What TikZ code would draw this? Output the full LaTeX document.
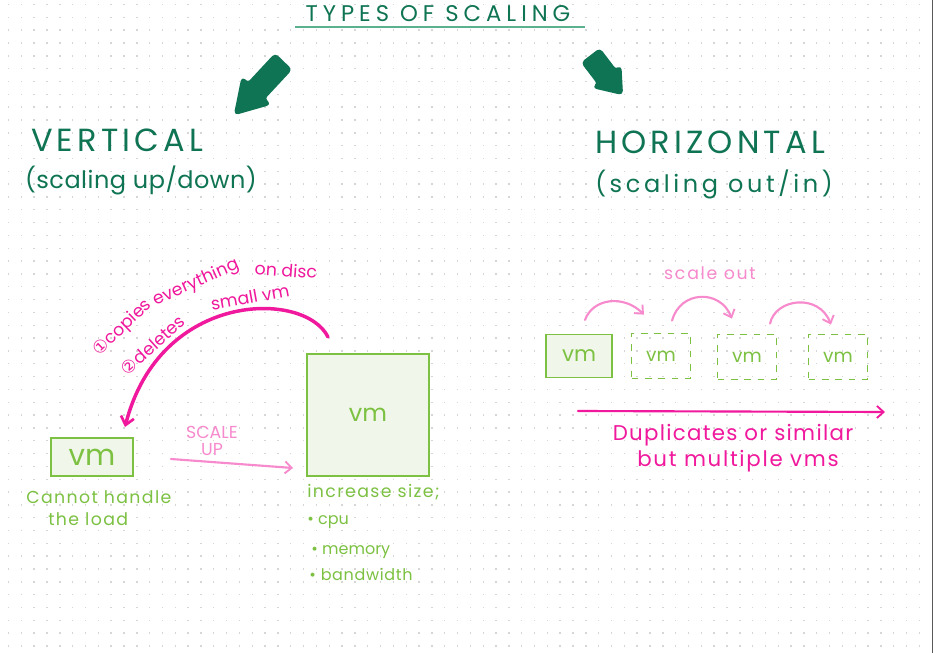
\documentclass[tikz,border=0pt]{standalone}
\usepackage{fontspec}
\setmainfont{Poppins}
\newfontfamily\symfont{DejaVu Sans}
\usetikzlibrary{arrows.meta,calc}
\definecolor{dkgreen}{HTML}{0E7453}
\definecolor{ulgreen}{HTML}{5BB08E}
\definecolor{lgreen}{HTML}{7CC142}
\definecolor{boxfill}{HTML}{F0F6E9}
\definecolor{hotpk}{HTML}{F0189C}
\definecolor{lightpk}{HTML}{F78ACD}
\definecolor{dotgray}{HTML}{D6D6D6}
\tikzset{
  heading/.style={text=dkgreen, inner sep=0pt},
  vmbox/.style={draw=lgreen, fill=boxfill, line width=1.1pt, text=lgreen, inner sep=0pt},
  vmdash/.style={draw=lgreen, line width=1.1pt, dash pattern=on 5pt off 5pt, text=lgreen, inner sep=0pt},
  greennote/.style={text=lgreen, inner sep=0pt, anchor=west},
  pinknote/.style={text=hotpk, inner sep=0pt},
  lpinknote/.style={text=lightpk, inner sep=0pt},
  bigarrow/.style={fill=dkgreen, draw=dkgreen, line width=1.5pt, rounded corners=2.5pt, line join=round},
  hotline/.style={draw=hotpk, line width=2.6pt, line cap=round, -{Straight Barb[length=6pt,width=10pt,line width=2pt]}},
  thinhot/.style={draw=hotpk, line width=1.6pt, line cap=round, -{Straight Barb[length=5pt,width=9pt,line width=1.4pt]}},
  lpinkline/.style={draw=lightpk, line width=1.6pt, line cap=round, -{Straight Barb[length=5pt,width=9pt,line width=1.4pt]}},
}
\begin{document}
\begin{tikzpicture}[x=0.75pt,y=-0.75pt]
\useasboundingbox (0,0) rectangle (933,653);
\fill[white] (0,0) rectangle (933,653);
% dot grid
\foreach \i in {0,...,71}{\foreach \j in {0,...,50}{
  \fill[dotgray] (7.8+\i*12.83,3.8+\j*12.83) rectangle +(1.4,1.4);}}
\draw[gray!70!black, line width=0.8pt] (932.3,0) -- (932.3,653);

% title
\node[heading, font=\fontsize{17}{17}\selectfont\addfontfeature{LetterSpace=22}] (title) at (438,14) {TYPES OF SCALING};
\draw[ulgreen, line width=1.2pt] (295,27) -- (585,27);

% big green arrows
\path[bigarrow] (275.1,54.4) -- (290.9,69.6) -- (263.9,98.6) -- (269.7,104.1) -- (235,114) -- (242.3,77.9) -- (248.1,83.4) -- cycle;
\path[bigarrow] (582.3,62.7) -- (599.7,49.3) -- (615.7,70.3) -- (620.5,66.7) -- (622,94) -- (593.5,87.3) -- (598.3,83.7) -- cycle;

% headings
\node[heading, font=\fontsize{24}{24}\selectfont\addfontfeature{LetterSpace=13}] (vert) at (117,140) {VERTICAL};
\node[heading, font=\fontsize{18}{18}\selectfont\addfontfeature{LetterSpace=2}] (vertsub) at (141,180) {(scaling up/down)};
\node[heading, font=\fontsize{24}{24}\selectfont\addfontfeature{LetterSpace=13}] (horiz) at (710,142) {HORIZONTAL};
\node[heading, font=\fontsize{18}{18}\selectfont\addfontfeature{LetterSpace=15}] (horizsub) at (714,184) {(scaling out/in)};

% vertical scaling
\node[vmbox, minimum width=61.5pt, minimum height=28.5pt, font=\fontsize{22}{22}\selectfont] (smallvm) at (92,457) {vm};
\node[vmbox, minimum width=91.5pt, minimum height=91.5pt, font=\fontsize{18}{18}\selectfont] (bigvm) at (368,415) {vm};

\coordinate (arcstart) at (328,337);
\coordinate (arcend) at (125,427);
\draw[hotline] (arcstart) .. controls (305,290) and (160,290) .. (arcend);

\node[pinknote, font=\fontsize{13}{13}\selectfont, rotate=44] (c1) at (123,328) {{\symfont ①}copies};
\node[pinknote, font=\fontsize{13}{13}\selectfont, rotate=24] (c2) at (196,283) {everything};
\node[pinknote, font=\fontsize{13}{13}\selectfont, rotate=-4] (c3) at (286,270) {on disc};
\node[pinknote, font=\fontsize{13}{13}\selectfont, rotate=42] (d1) at (153,345) {{\symfont ②}deletes};
\node[pinknote, font=\fontsize{13}{13}\selectfont, rotate=10] (d2) at (250,297) {small vm};

\node[lpinknote, font=\fontsize{13}{13}\selectfont, align=center] (scaleup) at (212,441) {SCALE\\UP};
\coordinate (upstart) at (171,459);
\coordinate (upend) at (293,468);
\draw[lpinkline] (upstart) -- (upend);

\node[greennote, font=\fontsize{13}{13}\selectfont\addfontfeature{LetterSpace=8}] (cannot) at (26,497) {Cannot handle};
\node[greennote, font=\fontsize{13}{13}\selectfont\addfontfeature{LetterSpace=8}] (load) at (48,519) {the load};

\node[greennote, font=\fontsize{13}{13}\selectfont\addfontfeature{LetterSpace=8}] (incr) at (307,492) {increase size;};
\node[greennote, font=\fontsize{12}{12}\selectfont] (cpu) at (307,522) {• cpu};
\node[greennote, font=\fontsize{12}{12}\selectfont] (mem) at (311,552) {• memory};
\node[greennote, font=\fontsize{12}{12}\selectfont\addfontfeature{LetterSpace=4}] (bw) at (309,574) {• bandwidth};

% horizontal scaling
\node[vmbox, minimum width=49.5pt, minimum height=32pt, font=\fontsize{16}{16}\selectfont] (hvm0) at (579,356) {vm};
\node[vmdash, minimum width=44pt, minimum height=34pt, font=\fontsize{14}{14}\selectfont] (hvm1) at (661,356) {vm};
\node[vmdash, minimum width=44pt, minimum height=34pt, font=\fontsize{14}{14}\selectfont] (hvm2) at (747,357) {vm};
\node[vmdash, minimum width=44pt, minimum height=34pt, font=\fontsize{14}{14}\selectfont] (hvm3) at (838,357) {vm};

\node[lpinknote, font=\fontsize{13}{13}\selectfont\addfontfeature{LetterSpace=10}] (scaleout) at (710,273) {scale out};
\draw[lpinkline] ($(hvm0.north)+(6,-14)$) .. controls +(8,-22) and +(-20,-20) .. ($(hvm1.north west)+(13,-18)$);
\draw[lpinkline] ($(hvm1.north east)+(-19,-12)$) .. controls +(8,-30) and +(-12,-30) .. ($(hvm2.north west)+(15,-15)$);
\draw[lpinkline] ($(hvm2.north east)+(-7,-10)$) .. controls +(5,-25) and +(-12,-32) .. ($(hvm3.north west)+(23,-9)$);

\coordinate (dupstart) at (578,411);
\coordinate (dupend) at (885,412);
\draw[thinhot] (dupstart) -- (dupend);
\node[pinknote, font=\fontsize{16}{16}\selectfont\addfontfeature{LetterSpace=6}] (dup1) at (733,435) {Duplicates or similar};
\node[pinknote, font=\fontsize{16}{16}\selectfont\addfontfeature{LetterSpace=8}] (dup2) at (738,461) {but multiple vms};
\end{tikzpicture}
\end{document}
